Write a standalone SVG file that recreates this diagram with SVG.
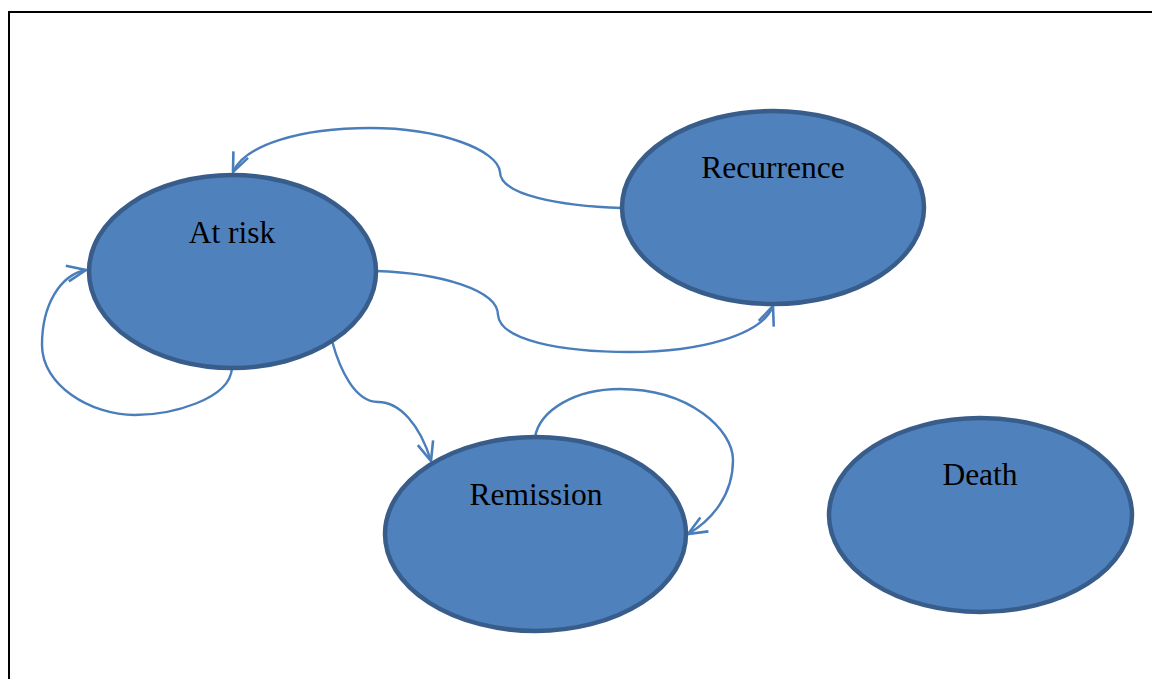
<svg xmlns="http://www.w3.org/2000/svg" width="1152" height="679" viewBox="0 0 1152 679">
<defs>
<style>
.node{fill:#4F81BD;stroke:#385D8A;stroke-width:4.5}
.lbl{font-family:"Liberation Serif","Times New Roman",serif;font-size:31.5px;fill:#000;text-anchor:middle}
.edge{fill:none;stroke:#4A7EBB;stroke-width:2.4;marker-end:url(#arr)}
</style>
<marker id="arr" markerUnits="userSpaceOnUse" viewBox="0 0 22 22" markerWidth="22" markerHeight="22" refX="21" refY="11" orient="auto">
<path d="M2,3 L21,11 L2,19" fill="none" stroke="#4A7EBB" stroke-width="2.6"/>
</marker>
</defs>
<rect width="1152" height="679" fill="#fff"/>
<path d="M9,679 L9,12 L1152,12" fill="none" stroke="#000" stroke-width="2"/>
<g id="connectors">
<path class="edge" d="M622,208 C560,206 500,195 500,172 C498,150 440,128 370,128 C300,128 245,145 233,172"/>
<path class="edge" d="M376,271 C440,273 498,290 498,315 C500,340 560,352 630,352 C700,352 762,335 773,306"/>
<path class="edge" d="M232,368 C230,400 170,415 135,415 C90,415 42,385 42,345 C42,305 60,275 86,270"/>
<path class="edge" d="M332,341 C340,370 355,402 378,402 C400,402 420,425 431,461"/>
<path class="edge" d="M535,437 C540,410 575,389 620,389 C690,389 733,430 733,460 C733,495 712,520 688,534"/>
</g>
<g id="at-risk">
<ellipse class="node" cx="232.5" cy="271.5" rx="143.5" ry="96.5"/>
<text class="lbl" x="232" y="243">At risk</text>
</g>
<g id="recurrence">
<ellipse class="node" cx="773" cy="207.5" rx="151" ry="96.5"/>
<text class="lbl" x="773" y="178">Recurrence</text>
</g>
<g id="remission">
<ellipse class="node" cx="535.5" cy="534" rx="150.5" ry="97"/>
<text class="lbl" x="536" y="505">Remission</text>
</g>
<g id="death">
<ellipse class="node" cx="980.5" cy="515" rx="151.5" ry="97"/>
<text class="lbl" x="980" y="485">Death</text>
</g>
</svg>
